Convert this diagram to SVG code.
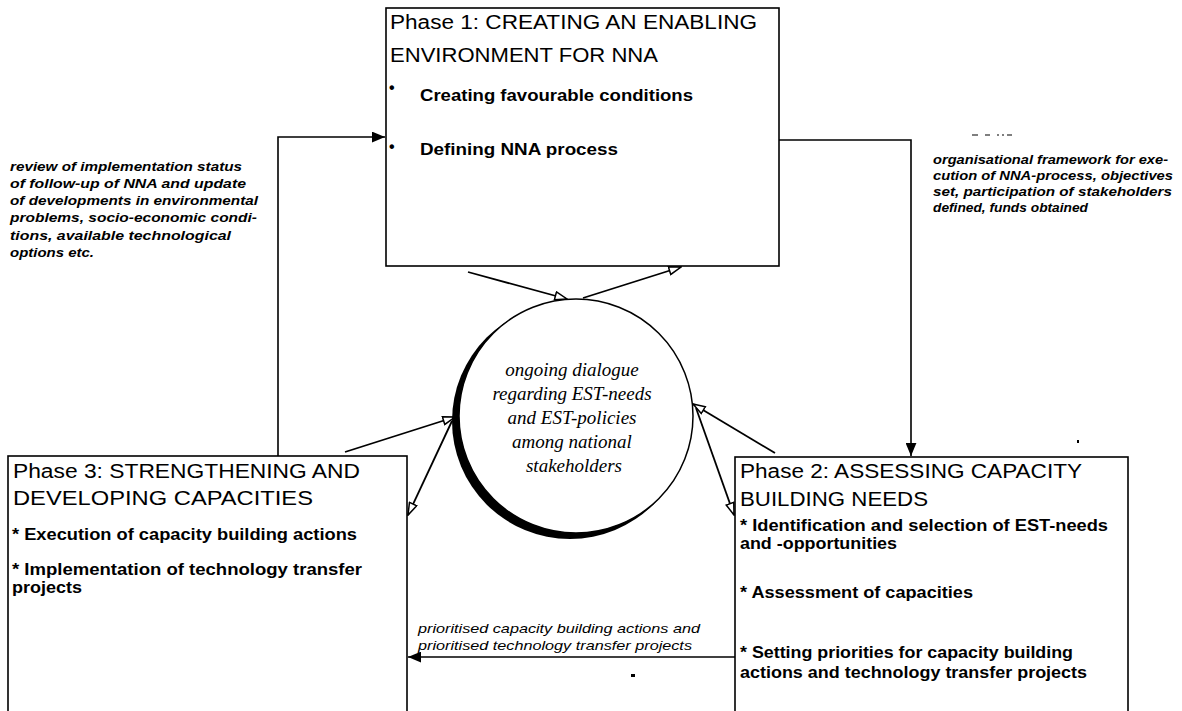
<svg xmlns="http://www.w3.org/2000/svg" width="1182" height="711" viewBox="0 0 1182 711">
<style>
.box{fill:#fff;stroke:#000;stroke-width:1.6}
.title{font-family:"Liberation Sans",Arial,sans-serif;font-size:20px;fill:#000}
.body{font-family:"Liberation Sans",Arial,sans-serif;font-size:16px;font-weight:bold;fill:#000}
.note{font-family:"Liberation Sans",Arial,sans-serif;font-size:13px;font-style:italic;font-weight:bold;fill:#000}
.note2{font-family:"Liberation Sans",Arial,sans-serif;font-size:13px;font-style:italic;fill:#000}
.circ{font-family:"Liberation Serif","Times New Roman",serif;font-size:19px;font-style:italic;text-anchor:middle;fill:#000}
.conn{fill:none;stroke:#000;stroke-width:1.6}
.open{fill:none;stroke:#000;stroke-width:1.8}
</style>
<defs>
<marker id="solid" viewBox="0 0 12 10" refX="12" refY="5" markerWidth="13" markerHeight="11" markerUnits="userSpaceOnUse" orient="auto">
<path d="M0,0 L12,5 L0,10 z" fill="#000"/>
</marker>
<marker id="hollow" viewBox="0 0 14 10" refX="13" refY="5" markerWidth="14" markerHeight="10" markerUnits="userSpaceOnUse" orient="auto">
<path d="M1,1 L13,5 L1,9 z" fill="#fff" stroke="#000" stroke-width="1.5"/>
</marker>
</defs>
<rect width="1182" height="711" fill="#fff"/>

<g id="connectors">
<path class="conn" d="M278,457 V137 H385" marker-end="url(#solid)"/>
<path class="conn" d="M779,140 H911 V456" marker-end="url(#solid)"/>
<path class="conn" d="M735,657 H408" marker-end="url(#solid)"/>
<line class="open" x1="468" y1="272" x2="567" y2="299" marker-end="url(#hollow)"/>
<line class="open" x1="583" y1="298" x2="681" y2="267" marker-end="url(#hollow)"/>
<line class="open" x1="345" y1="452" x2="455" y2="417" marker-end="url(#hollow)"/>
<line class="open" x1="452" y1="421" x2="408" y2="515" marker-end="url(#hollow)"/>
<line class="open" x1="775" y1="453" x2="693" y2="404" marker-end="url(#hollow)"/>
<line class="open" x1="696" y1="408" x2="734" y2="515" marker-end="url(#hollow)"/>
</g>

<g id="label-left">
<text class="note" x="10" y="171" textLength="232" lengthAdjust="spacingAndGlyphs">review of implementation status</text>
<text class="note" x="10" y="187.5" textLength="236" lengthAdjust="spacingAndGlyphs">of follow-up of NNA and update</text>
<text class="note" x="10" y="204.5" textLength="248" lengthAdjust="spacingAndGlyphs">of developments in environmental</text>
<text class="note" x="10" y="222" textLength="247" lengthAdjust="spacingAndGlyphs">problems, socio-economic condi-</text>
<text class="note" x="10" y="239.5" textLength="221" lengthAdjust="spacingAndGlyphs">tions, available technological</text>
<text class="note" x="10" y="257" textLength="84" lengthAdjust="spacingAndGlyphs">options etc.</text>
</g>

<g id="label-right">
<path d="M972,135 h6 M985,135 h5 M997,135 h2 M1002,135 h2 M1007,135 h5" stroke="#000" stroke-width="1.2"/>
<text class="note" x="933" y="164" textLength="235" lengthAdjust="spacingAndGlyphs">organisational framework for exe-</text>
<text class="note" x="933" y="180" textLength="240" lengthAdjust="spacingAndGlyphs">cution of NNA-process, objectives</text>
<text class="note" x="933" y="196" textLength="239" lengthAdjust="spacingAndGlyphs">set, participation of stakeholders</text>
<text class="note" x="933" y="212" textLength="155" lengthAdjust="spacingAndGlyphs">defined, funds obtained</text>
</g>

<g id="label-bottom">
<text class="note2" x="418" y="633" textLength="282" lengthAdjust="spacingAndGlyphs">prioritised capacity building actions and</text>
<text class="note2" x="418" y="650" textLength="274" lengthAdjust="spacingAndGlyphs">prioritised technology transfer projects</text>
<rect x="631" y="674" width="4" height="3" fill="#000"/>
<rect x="1077" y="440" width="2" height="3" fill="#000"/>
</g>

<g id="phase1">
<rect class="box" x="386" y="8" width="393" height="258"/>
<text class="title" x="390" y="29" textLength="367" lengthAdjust="spacingAndGlyphs">Phase 1: CREATING AN ENABLING</text>
<text class="title" x="390" y="62" textLength="268" lengthAdjust="spacingAndGlyphs">ENVIRONMENT FOR NNA</text>
<text class="body" x="389" y="93" font-size="14">•</text>
<text class="body" x="420" y="101" textLength="273" lengthAdjust="spacingAndGlyphs">Creating favourable conditions</text>
<text class="body" x="389" y="152" font-size="14">•</text>
<text class="body" x="420" y="155" textLength="198" lengthAdjust="spacingAndGlyphs">Defining NNA process</text>
</g>

<g id="dialogue">
<circle cx="570" cy="421" r="118" fill="#000"/>
<circle cx="576" cy="416" r="117" fill="#fff" stroke="#000" stroke-width="1.5"/>
<text class="circ" x="572" y="376">ongoing dialogue</text>
<text class="circ" x="572" y="400">regarding EST-needs</text>
<text class="circ" x="572" y="424">and EST-policies</text>
<text class="circ" x="572" y="448">among national</text>
<text class="circ" x="574" y="472">stakeholders</text>
</g>

<g id="phase3">
<rect class="box" x="8" y="456" width="399" height="270"/>
<text class="title" x="13" y="478" textLength="347" lengthAdjust="spacingAndGlyphs">Phase 3: STRENGTHENING AND</text>
<text class="title" x="13" y="505" textLength="300" lengthAdjust="spacingAndGlyphs">DEVELOPING CAPACITIES</text>
<text class="body" x="12" y="540" textLength="345" lengthAdjust="spacingAndGlyphs">* Execution of capacity building actions</text>
<text class="body" x="12" y="575" textLength="350" lengthAdjust="spacingAndGlyphs">* Implementation of technology transfer</text>
<text class="body" x="12" y="593" textLength="70" lengthAdjust="spacingAndGlyphs">projects</text>
</g>

<g id="phase2">
<rect class="box" x="735" y="457" width="393" height="270"/>
<text class="title" x="740" y="478" textLength="342" lengthAdjust="spacingAndGlyphs">Phase 2: ASSESSING CAPACITY</text>
<text class="title" x="740" y="506" textLength="188" lengthAdjust="spacingAndGlyphs">BUILDING NEEDS</text>
<text class="body" x="740" y="531" textLength="368" lengthAdjust="spacingAndGlyphs">* Identification and selection of EST-needs</text>
<text class="body" x="740" y="549" textLength="157" lengthAdjust="spacingAndGlyphs">and -opportunities</text>
<text class="body" x="740" y="598" textLength="233" lengthAdjust="spacingAndGlyphs">* Assessment of capacities</text>
<text class="body" x="740" y="658" textLength="333" lengthAdjust="spacingAndGlyphs">* Setting priorities for capacity building</text>
<text class="body" x="740" y="678" textLength="347" lengthAdjust="spacingAndGlyphs">actions and technology transfer projects</text>
</g>
</svg>
